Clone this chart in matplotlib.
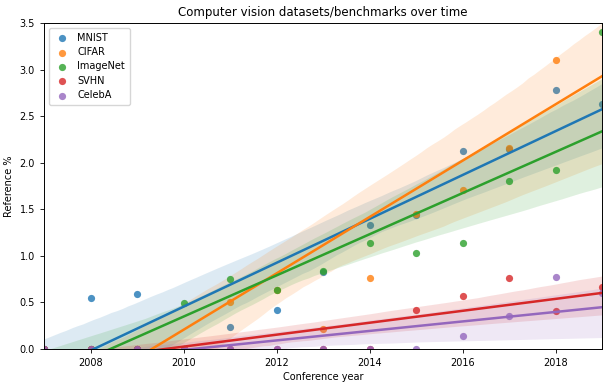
import numpy as np
import matplotlib
matplotlib.use("Agg")
import matplotlib.pyplot as plt
import seaborn as sns

years = [2007, 2008, 2009, 2010, 2011, 2012, 2013, 2014, 2015, 2016, 2017, 2018, 2019]
mnist = [0.0, 0.55, 0.59, 0.0, 0.24, 0.42, 0.83, 1.33, 1.44, 2.13, 2.15, 2.78, 2.63]
cifar = [0.0, 0.0, 0.0, 0.0, 0.50, 0.63, 0.21, 0.76, 1.45, 1.71, 2.16, 3.10, 3.96]
imagenet = [0.0, 0.0, 0.0, 0.49, 0.75, 0.63, 0.84, 1.14, 1.03, 1.14, 1.80, 1.92, 3.40]
svhn = [0.0, 0.0, 0.0, 0.0, 0.0, 0.0, 0.0, 0.0, 0.42, 0.57, 0.76, 0.41, 0.67]
celeba = [0.0, 0.0, 0.0, 0.0, 0.0, 0.0, 0.0, 0.0, 0.0, 0.14, 0.35, 0.77, 0.60]

series = [("MNIST", mnist), ("CIFAR", cifar), ("ImageNet", imagenet),
          ("SVHN", svhn), ("CelebA", celeba)]
colors = ["#1f77b4", "#ff7f0e", "#2ca02c", "#d62728", "#9467bd"]

fig = plt.figure(figsize=(6.09, 3.87), dpi=100)
ax = fig.add_axes([44/609, 1-349/387, (602-44)/609, (349-23)/387])
x = np.array(years, dtype=float)
for (name, vals), c in zip(series, colors):
    sns.regplot(x=x, y=np.array(vals), ax=ax, color=c, label=name, seed=1,
                scatter_kws={"s": 27, "linewidths": 0},
                line_kws={"lw": 1.8})

ax.set_xlim(2007, 2019)
ax.set_ylim(0, 3.5)
ax.set_xticks([2008, 2010, 2012, 2014, 2016, 2018])
ax.set_xticklabels(["2008", "2010", "2012", "2014", "2016", "2018"])
ax.set_yticks(np.arange(0, 3.51, 0.5))
ax.tick_params(labelsize=7, length=3, width=0.6)
for s in ax.spines.values():
    s.set_linewidth(0.7)
ax.set_xlabel("Conference year", fontsize=7, labelpad=3)
ax.set_ylabel("Reference %", fontsize=7, labelpad=4)
ax.set_title("Computer vision datasets/benchmarks over time", fontsize=8.5, pad=5)
ax.legend(loc="upper left", fontsize=7, handletextpad=0.8, borderpad=0.5,
          labelspacing=0.45, handlelength=1.6)
fig.savefig("out.png", dpi=100)
